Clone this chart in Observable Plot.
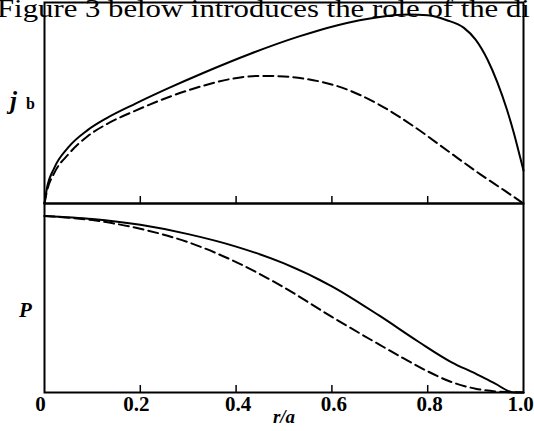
<!DOCTYPE html>
<html><head><meta charset="utf-8">
<script src="https://cdn.jsdelivr.net/npm/d3@7"></script>
<script src="https://cdn.jsdelivr.net/npm/@observablehq/plot@0.6"></script>
<style>
html,body{margin:0;padding:0;background:#fff;}
#wrap{position:relative;width:534px;height:431px;overflow:hidden;}
#wrap svg{position:absolute;left:0;top:0;}
#caption{position:absolute;left:-3px;top:-3px;line-height:24px;font-family:"Liberation Serif";font-size:25px;white-space:nowrap;color:#000;transform:scaleX(1.23);transform-origin:0 0;z-index:5;}
</style></head><body>
<div id="wrap"><div id="caption">Figure 3 below introduces the role of the di</div></div>
<script>
// Top panel: bootstrap current density j_b vs r/a (normalized)
const rJbSolid = [0, 0.005, 0.02, 0.05, 0.09, 0.13, 0.19, 0.26, 0.33, 0.43, 0.53, 0.61, 0.70, 0.76, 0.80, 0.84, 0.875, 0.90, 0.925, 0.945, 0.965, 0.98, 0.993, 1.0];
const jbSolid  = [0, 0.075, 0.175, 0.28, 0.365, 0.425, 0.497, 0.575, 0.648, 0.745, 0.83, 0.886, 0.928, 0.940, 0.936, 0.912, 0.875, 0.815, 0.715, 0.605, 0.47, 0.35, 0.23, 0.164];
const rJbDashed = [0, 0.005, 0.02, 0.05, 0.09, 0.13, 0.19, 0.26, 0.33, 0.39, 0.45, 0.50, 0.55, 0.61, 0.70, 0.77, 0.84, 0.91, 0.96, 1.0];
const jbDashed  = [0, 0.06, 0.15, 0.245, 0.335, 0.395, 0.462, 0.53, 0.585, 0.62, 0.635, 0.632, 0.618, 0.585, 0.49, 0.385, 0.265, 0.145, 0.065, 0.0];
// Bottom panel: pressure P vs r/a (normalized)
const rPSolid = [0, 0.1, 0.2, 0.3, 0.4, 0.5, 0.6, 0.7, 0.78, 0.85, 0.9, 0.94, 0.98, 1.0];
const pSolid  = [0.934, 0.918, 0.887, 0.838, 0.772, 0.683, 0.562, 0.405, 0.27, 0.16, 0.10, 0.048, 0.0, 0.0];
const rPDashed = [0, 0.1, 0.2, 0.3, 0.4, 0.5, 0.6, 0.7, 0.75, 0.8, 0.85, 0.9, 0.95, 1.0];
const pDashed  = [0.934, 0.912, 0.866, 0.795, 0.69, 0.556, 0.40, 0.252, 0.18, 0.112, 0.055, 0.02, 0.004, 0.0];
// Axis ticks
const minorTicks = [0.2, 0.4, 0.6, 0.8];
const labelTicksLeft = [0, 0.2];
const labelTicksMid = [0.4, 0.6, 0.8];
const labelTicksRight = [1.0];
const xLabel = "r/a";
const topLabelMain = "j", topLabelSub = "b", bottomLabel = "P";

const toRows = (rs, vs) => rs.map((r, i) => ({r, v: vs[i]}));
const serif = "Liberation Serif, Times New Roman, serif";
const fmt = d => d === 0 ? "0" : d.toFixed(1);
const labelStyle = {tickSize: 0, tickPadding: 4, tickFormat: fmt, fontSize: 21, fontWeight: "bold", fill: "#000", label: null};

const common = {
  width: 534, height: 431,
  marginLeft: 44, marginRight: 11,
  x: {domain: [0, 1]},
  style: {background: "transparent", fontFamily: serif, overflow: "visible"}
};

const topPlot = Plot.plot({
  ...common,
  marginTop: 2, marginBottom: 228,
  y: {domain: [0, 1], axis: null},
  marks: [
    Plot.frame({strokeWidth: 2}),
    Plot.axisX(minorTicks, {tickSize: -7, strokeWidth: 1.5, fill: "none", label: null}),
    Plot.line(toRows(rJbSolid, jbSolid), {x: "r", y: "v", curve: "monotone-x", strokeWidth: 2, stroke: "#000"}),
    Plot.line(toRows(rJbDashed, jbDashed), {x: "r", y: "v", curve: "monotone-x", strokeWidth: 2, stroke: "#000", strokeDasharray: "10,5"}),
    Plot.text([topLabelMain], {frameAnchor: "left", dx: -31, dy: -2, textAnchor: "middle", lineAnchor: "middle", fontSize: 25, fontWeight: "bold", fontStyle: "italic", fill: "#000"}),
    Plot.text([topLabelSub], {frameAnchor: "left", dx: -14, dy: 1, textAnchor: "middle", lineAnchor: "middle", fontSize: 16, fontWeight: "bold", fill: "#000"})
  ]
});

const bottomPlot = Plot.plot({
  ...common,
  marginTop: 203, marginBottom: 39,
  y: {domain: [0, 1], axis: null},
  marks: [
    Plot.frame({strokeWidth: 2}),
    Plot.axisX(minorTicks, {tickSize: -7, strokeWidth: 1.5, fill: "none", label: null}),
    Plot.axisX(labelTicksLeft, {...labelStyle, dx: -4}),
    Plot.axisX(labelTicksMid, {...labelStyle, dx: 2}),
    Plot.axisX(labelTicksRight, {...labelStyle, dx: -3}),
    Plot.line(toRows(rPSolid, pSolid), {x: "r", y: "v", curve: "monotone-x", strokeWidth: 2, stroke: "#000"}),
    Plot.line(toRows(rPDashed, pDashed), {x: "r", y: "v", curve: "monotone-x", strokeWidth: 2, stroke: "#000", strokeDasharray: "10,5"}),
    Plot.text([xLabel], {frameAnchor: "bottom", dy: 24, textAnchor: "middle", lineAnchor: "middle", fontSize: 19, fontWeight: "bold", fontStyle: "italic", fill: "#000"}),
    Plot.text([bottomLabel], {frameAnchor: "left", dx: -19, dy: 12, textAnchor: "middle", lineAnchor: "middle", fontSize: 21, fontWeight: "bold", fontStyle: "italic", fill: "#000"})
  ]
});

const wrap = document.getElementById("wrap");
wrap.insertBefore(bottomPlot, wrap.firstChild);
wrap.insertBefore(topPlot, wrap.firstChild);
</script>
</body></html>
